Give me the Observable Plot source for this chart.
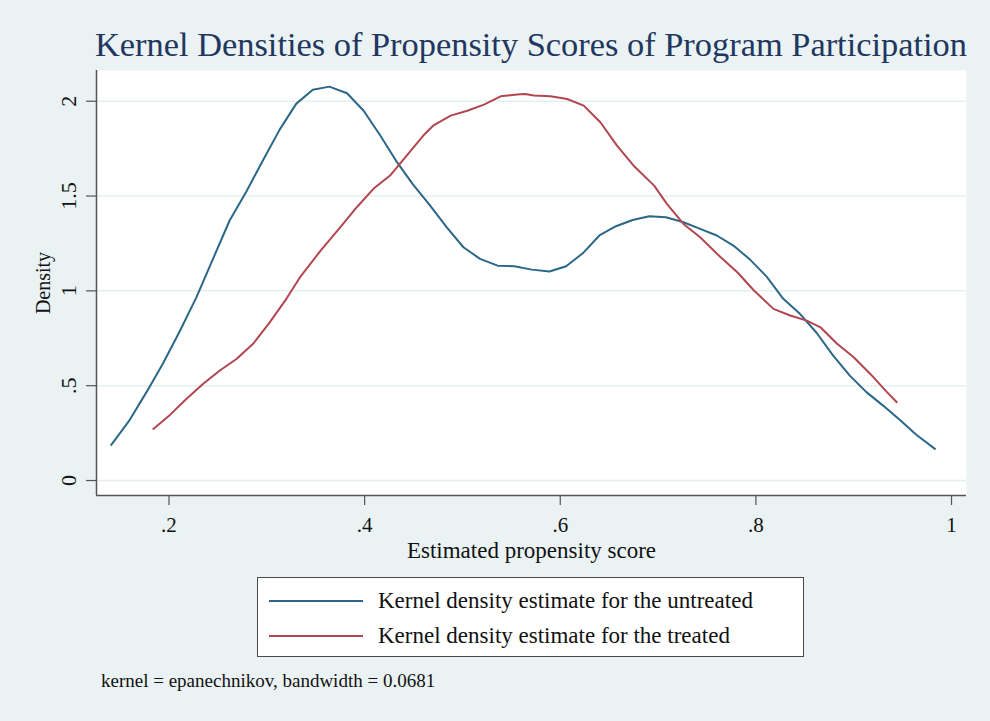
<!DOCTYPE html>
<html>
<head>
<meta charset="utf-8">
<script src="https://cdn.jsdelivr.net/npm/d3@7"></script>
<script src="https://cdn.jsdelivr.net/npm/@observablehq/plot@0.6"></script>
<style>
  html, body { margin: 0; padding: 0; background: #eaf2f3; }
  #wrap { position: relative; width: 990px; height: 721px; background: #eaf2f3; font-family: "Liberation Serif", "DejaVu Serif", serif; overflow: hidden; }
  #title { position: absolute; left: 95px; top: 27px; font-size: 34.4px; line-height: 34px; color: #22375f; white-space: nowrap; }
  #chart { position: absolute; left: 0; top: 66px; }
  #legend { position: absolute; left: 257px; top: 577px; width: 545px; height: 78px; background: #ffffff; border: 1.5px solid #4a4a4a; }
  .row { position: absolute; left: 0; height: 30px; width: 100%; }
  .sw { position: absolute; left: 11px; width: 94px; height: 2px; top: 14px; }
  .lt { position: absolute; left: 120px; top: 0; font-size: 23px; line-height: 30px; color: #111; white-space: nowrap; }
  #caption { position: absolute; left: 101px; top: 671px; font-size: 19px; line-height: 20px; color: #111; white-space: nowrap; }
</style>
</head>
<body>
<div id="wrap">
  <div id="title"></div>
  <div id="chart"></div>
  <div id="legend"></div>
  <div id="caption"></div>
</div>
<script>
const titleText = "Kernel Densities of Propensity Scores of Program Participation";
const xLabel = "Estimated propensity score";
const yLabel = "Density";
const captionText = "kernel = epanechnikov, bandwidth = 0.0681";
const seriesNames = ["Kernel density estimate for the untreated", "Kernel density estimate for the treated"];
const seriesColors = ["#2b6787", "#b2464f"];

const xTicks = [0.2, 0.4, 0.6, 0.8, 1];
const xTickLabels = [".2", ".4", ".6", ".8", "1"];
const yTicks = [0, 0.5, 1, 1.5, 2];
const yTickLabels = ["0", ".5", "1", "1.5", "2"];

const untreatedX = [.141,.159,.177,.194,.211,.228,.245,.262,.279,.296,.313,.330,.347,.364,.382,.399,.416,.432,.449,.467,.484,.501,.518,.536,.553,.571,.589,.606,.623,.640,.657,.674,.691,.708,.726,.743,.760,.777,.794,.811,.828,.845,.862,.879,.896,.913,.930,.947,.964,.983];
const untreatedY = [.188,.313,.466,.618,.787,.966,1.169,1.371,1.523,1.687,1.849,1.986,2.061,2.077,2.042,1.950,1.819,1.687,1.564,1.450,1.335,1.230,1.169,1.133,1.130,1.112,1.102,1.130,1.198,1.292,1.341,1.374,1.393,1.388,1.362,1.327,1.292,1.239,1.165,1.075,.958,.879,.779,.659,.553,.466,.395,.320,.241,.167];

const treatedX = [.184,.201,.218,.235,.252,.269,.286,.303,.320,.334,.355,.375,.392,.409,.426,.443,.460,.470,.488,.505,.522,.539,.556,.564,.573,.590,.607,.624,.641,.658,.675,.696,.709,.726,.743,.764,.781,.798,.818,.835,.852,.866,.883,.900,.917,.934,.944];
const treatedY = [.272,.346,.431,.510,.580,.641,.721,.834,.958,1.072,1.212,1.335,1.441,1.538,1.608,1.713,1.819,1.871,1.924,1.950,1.982,2.026,2.035,2.038,2.030,2.026,2.012,1.977,1.889,1.766,1.660,1.555,1.459,1.353,1.283,1.177,1.098,1.002,.905,.870,.843,.808,.721,.650,.562,.466,.413];

const untreated = untreatedX.map((x, i) => ({x, y: untreatedY[i]}));
const treated = treatedX.map((x, i) => ({x, y: treatedY[i]}));

const xDomain = [0.1259, 1.0153];
const yDomain = [-0.079, 2.162];
const fmtX = d => xTickLabels[xTicks.indexOf(d)];
const fmtY = d => yTickLabels[yTicks.indexOf(d)];

document.getElementById("title").textContent = titleText;
document.getElementById("caption").textContent = captionText;

const legend = document.getElementById("legend");
seriesNames.forEach((name, i) => {
  const row = document.createElement("div");
  row.className = "row";
  row.style.top = (8 + i * 35) + "px";
  const sw = document.createElement("div");
  sw.className = "sw";
  sw.style.background = seriesColors[i];
  const lt = document.createElement("div");
  lt.className = "lt";
  lt.textContent = name;
  row.appendChild(sw);
  row.appendChild(lt);
  legend.appendChild(row);
});

const plot = Plot.plot({
  width: 990,
  height: 504,
  marginTop: 4,
  marginBottom: 75,
  marginLeft: 96,
  marginRight: 24,
  style: {background: "transparent", fontFamily: "Liberation Serif, DejaVu Serif, serif", color: "#111"},
  x: {domain: xDomain},
  y: {domain: yDomain},
  marks: [
    Plot.frame({fill: "#ffffff", stroke: null}),
    Plot.ruleY(yTicks, {stroke: "#e6eff0", strokeWidth: 1.5}),
    Plot.line(untreated, {x: "x", y: "y", stroke: seriesColors[0], strokeWidth: 2}),
    Plot.line(treated, {x: "x", y: "y", stroke: seriesColors[1], strokeWidth: 2}),
    Plot.ruleX([xDomain[0]], {stroke: "#555", strokeWidth: 1.5}),
    Plot.ruleY([yDomain[0]], {stroke: "#555", strokeWidth: 1.5}),
    Plot.axisX({ticks: xTicks, tickFormat: fmtX, tickSize: 10, tickPadding: 12, fontSize: 21, stroke: "#555", strokeWidth: 1.2, label: null}),
    Plot.axisY({ticks: yTicks, tickFormat: fmtY, tickSize: 10, tickPadding: 11, tickRotate: -90, fontSize: 22, stroke: "#555", strokeWidth: 1.2, label: null}),
    Plot.text([xLabel], {frameAnchor: "bottom", dy: 55, fontSize: 23, textAnchor: "middle", lineAnchor: "middle", fill: "#111"}),
    Plot.text([yLabel], {frameAnchor: "left", dx: -53, rotate: -90, fontSize: 20, textAnchor: "middle", lineAnchor: "middle", fill: "#111"})
  ]
});
document.getElementById("chart").appendChild(plot);
</script>
</body>
</html>
